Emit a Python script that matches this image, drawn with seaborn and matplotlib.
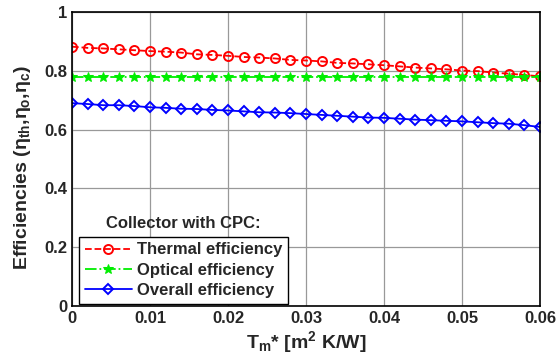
import numpy as np
import pandas as pd
import matplotlib
matplotlib.use("Agg")
import matplotlib.pyplot as plt
import seaborn as sns

tm = [i * 0.002 for i in range(31)]
thermal = [0.882, 0.878, 0.876, 0.873, 0.870, 0.867, 0.865, 0.862, 0.856, 0.854,
           0.851, 0.847, 0.845, 0.842, 0.837, 0.835, 0.832, 0.827, 0.825, 0.822,
           0.819, 0.815, 0.811, 0.808, 0.805, 0.801, 0.799, 0.794, 0.790, 0.786, 0.781]
optical = [0.78] * 31
overall = [0.690, 0.687, 0.683, 0.683, 0.680, 0.676, 0.674, 0.671, 0.670, 0.667,
           0.665, 0.662, 0.659, 0.658, 0.656, 0.653, 0.650, 0.647, 0.644, 0.641,
           0.640, 0.637, 0.634, 0.632, 0.630, 0.628, 0.625, 0.622, 0.620, 0.615, 0.609]
xticks = [0, 0.01, 0.02, 0.03, 0.04, 0.05, 0.06]
xticklabels = ["0", "0.01", "0.02", "0.03", "0.04", "0.05", "0.06"]
yticks = [0, 0.2, 0.4, 0.6, 0.8, 1.0]
yticklabels = ["0", "0.2", "0.4", "0.6", "0.8", "1"]

sns.set_style("white")
plt.rcParams['font.family'] = ['Liberation Sans', 'DejaVu Sans']
plt.rcParams['font.weight'] = 'bold'
plt.rcParams['mathtext.fontset'] = 'custom'
plt.rcParams['mathtext.rm'] = 'Liberation Sans:bold'
plt.rcParams['mathtext.it'] = 'Liberation Sans:bold'
plt.rcParams['mathtext.bf'] = 'Liberation Sans:bold'

fig = plt.figure(figsize=(5.57, 3.56), dpi=100)
ax = fig.add_axes([72/557, 50/356, 468/557, 294/356])

sns.lineplot(x=tm, y=thermal, ax=ax, color='red', linestyle='--', marker='o',
             markersize=6.5, markerfacecolor='none', markeredgecolor='red',
             markeredgewidth=1.4, linewidth=1.3, label='Thermal efficiency')
sns.lineplot(x=tm, y=optical, ax=ax, color='#00ee00', linestyle='-.', marker='*',
             markersize=7, markerfacecolor='#00ee00', markeredgecolor='#00ee00',
             linewidth=1.3, label='Optical efficiency')
sns.lineplot(x=tm, y=overall, ax=ax, color='blue', linestyle='-', marker='D',
             markersize=5.5, markerfacecolor='none', markeredgecolor='blue',
             markeredgewidth=1.4, linewidth=1.3, label='Overall efficiency')

ax.set_xlim(0, 0.06)
ax.set_ylim(0, 1)
ax.set_xticks(xticks)
ax.set_xticklabels(xticklabels)
ax.set_yticks(yticks)
ax.set_yticklabels(yticklabels)
ax.grid(True, color='#999999', linewidth=0.9)
ax.tick_params(direction='in', length=4, labelsize=12, width=1, color='black')
for lab in ax.get_xticklabels() + ax.get_yticklabels():
    lab.set_fontweight('bold')
for s in ax.spines.values():
    s.set_color('black')
    s.set_linewidth(1.2)

ax.set_xlabel(r'T$_{m}$* [m$^{2}$ K/W]', fontsize=14, fontweight='bold', labelpad=2)
ax.set_ylabel(r'Efficiencies ($\eta_{th}$,$\eta_{o}$,$\eta_{c}$)', fontsize=14,
              fontweight='bold')
ax.yaxis.set_label_coords(-0.083, 0.47)

leg = ax.legend(loc='lower left', bbox_to_anchor=(0.015, 0.007), borderaxespad=0,
                fontsize=12, frameon=True, fancybox=False, edgecolor='black',
                framealpha=1, borderpad=0.35, labelspacing=0.32, handlelength=2.8,
                handletextpad=0.3)
leg.get_frame().set_linewidth(1.0)
for t in leg.get_texts():
    t.set_fontweight('bold')
ax.text(0.073, 0.282, 'Collector with CPC:', transform=ax.transAxes, fontsize=12,
        fontweight='bold', ha='left', va='center')

fig.savefig('out.png', dpi=100, facecolor='white')
